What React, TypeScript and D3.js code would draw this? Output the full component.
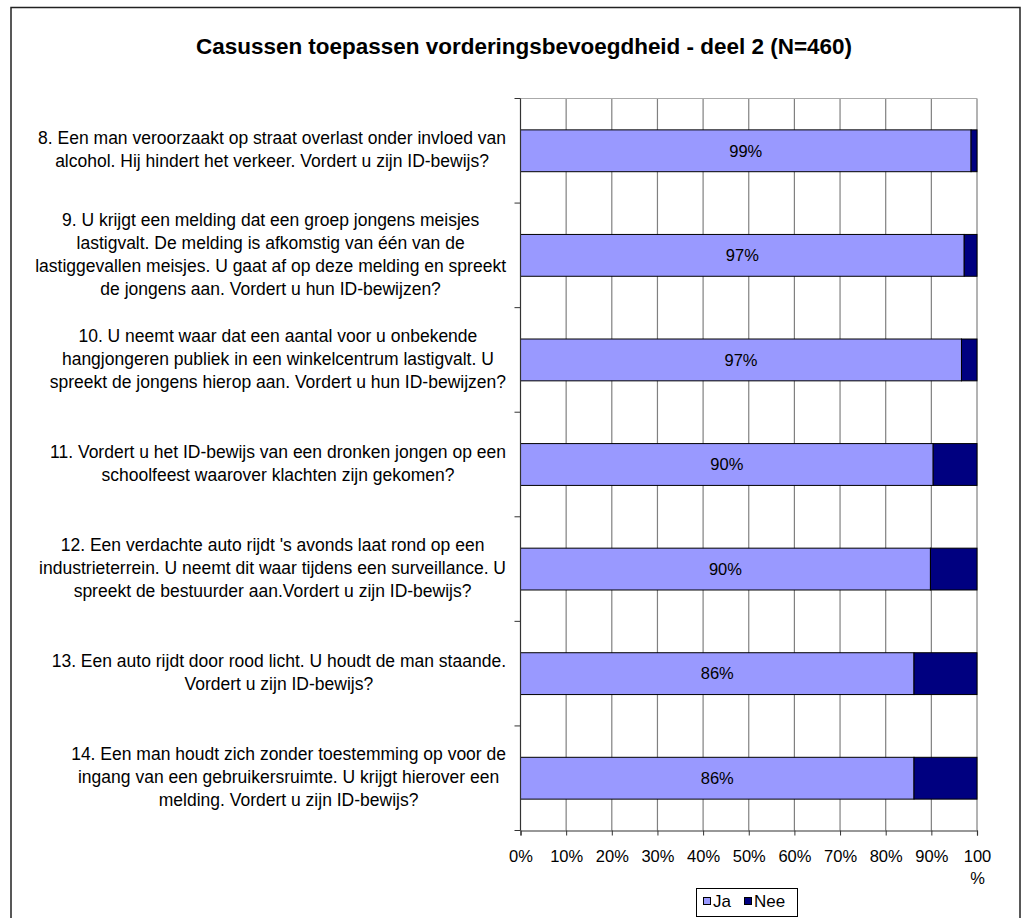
import React, { useEffect, useRef } from 'react';
import * as d3 from 'd3';

const title = 'Casussen toepassen vorderingsbevoegdheid - deel 2 (N=460)';

const questions: string[][] = [
  ['8. Een man veroorzaakt op straat overlast onder invloed van', 'alcohol. Hij hindert het verkeer. Vordert u zijn ID-bewijs?'],
  [
    '9. U krijgt een melding dat een groep jongens meisjes',
    'lastigvalt. De melding is afkomstig van één van de',
    'lastiggevallen meisjes. U gaat af op deze melding en spreekt',
    'de jongens aan. Vordert u hun ID-bewijzen?',
  ],
  [
    '10. U neemt waar dat een aantal voor u onbekende',
    'hangjongeren publiek in een winkelcentrum lastigvalt. U',
    'spreekt de jongens hierop aan. Vordert u hun ID-bewijzen?',
  ],
  ['11. Vordert u het ID-bewijs van een dronken jongen op een', 'schoolfeest waarover klachten zijn gekomen?'],
  [
    "12. Een verdachte auto rijdt 's avonds laat rond op een",
    'industrieterrein. U neemt dit waar tijdens een surveillance. U',
    'spreekt de bestuurder aan.Vordert u zijn ID-bewijs?',
  ],
  ['13. Een auto rijdt door rood licht. U houdt de man staande.', 'Vordert u zijn ID-bewijs?'],
  [
    '14. Een man houdt zich zonder toestemming op voor de',
    'ingang van een gebruikersruimte. U krijgt hierover een',
    'melding. Vordert u zijn ID-bewijs?',
  ],
];

const ja = [98.7, 97.2, 96.6, 90.4, 89.8, 86.2, 86.2];
const nee = ja.map((v) => 100 - v);

const seriesNames = ['Ja', 'Nee'];
const seriesColors = ['#9999FF', '#000080'];
const xTicks = [0, 10, 20, 30, 40, 50, 60, 70, 80, 90, 100];

const W = 1025;
const H = 918;
const FONT = 'Liberation Sans, Arial, sans-serif';

const App = () => {
  const ref = useRef<SVGSVGElement>(null);

  useEffect(() => {
    if (!ref.current) return;
    const svg = d3.select(ref.current);
    svg.selectAll('*').remove();

    const margin = { top: 98.5, bottom: 830.5, left: 520.5, right: 977 };

    const x = d3.scaleLinear().domain([0, 100]).range([margin.left, margin.right]);
    const y = d3
      .scaleBand<number>()
      .domain(d3.range(questions.length))
      .range([margin.top, margin.bottom])
      .paddingInner(0.6)
      .paddingOuter(0.3);

    svg.append('rect').attr('width', W).attr('height', H).attr('fill', '#fff');

    // outer frame
    svg
      .append('rect')
      .attr('x', 11)
      .attr('y', 7.5)
      .attr('width', 1009)
      .attr('height', 930)
      .attr('fill', 'none')
      .attr('stroke', '#222')
      .attr('stroke-width', 1.5);

    svg
      .append('text')
      .attr('x', 524)
      .attr('y', 54)
      .attr('text-anchor', 'middle')
      .attr('font-family', FONT)
      .attr('font-weight', 'bold')
      .attr('font-size', 22)
      .attr('textLength', 656)
      .attr('lengthAdjust', 'spacingAndGlyphs')
      .text(title);

    // grid
    svg
      .append('g')
      .attr('stroke', '#808080')
      .attr('stroke-width', 1.2)
      .selectAll('line')
      .data(xTicks.slice(1))
      .join('line')
      .attr('x1', (d) => x(d))
      .attr('x2', (d) => x(d))
      .attr('y1', margin.top)
      .attr('y2', margin.bottom);

    svg
      .append('line')
      .attr('x1', margin.left)
      .attr('x2', margin.right)
      .attr('y1', margin.top)
      .attr('y2', margin.top)
      .attr('stroke', '#aaa');

    // bars
    const stacked = questions.map((_, i) => {
      const vals = [ja[i], nee[i]];
      let acc = 0;
      return vals.map((v, k) => {
        const s = { i, k, x0: acc, x1: acc + v };
        acc += v;
        return s;
      });
    });

    svg
      .append('g')
      .selectAll('rect')
      .data(stacked.flat())
      .join('rect')
      .attr('x', (d) => x(d.x0))
      .attr('y', (d) => y(d.i)!)
      .attr('width', (d) => x(d.x1) - x(d.x0))
      .attr('height', y.bandwidth())
      .attr('fill', (d) => seriesColors[d.k])
      .attr('stroke', '#000')
      .attr('stroke-width', 1);

    // value labels
    svg
      .append('g')
      .attr('font-family', FONT)
      .attr('font-size', 16.5)
      .attr('text-anchor', 'middle')
      .selectAll('text')
      .data(ja)
      .join('text')
      .attr('x', (d) => x(d / 2))
      .attr('y', (_, i) => y(i)! + y.bandwidth() / 2)
      .attr('dy', '0.35em')
      .text((d) => `${Math.round(d)}%`);

    // left axis
    const yEdges = d3.range(questions.length + 1).map((i) => margin.top + i * y.step());
    svg
      .append('line')
      .attr('x1', margin.left)
      .attr('x2', margin.left)
      .attr('y1', margin.top)
      .attr('y2', margin.bottom)
      .attr('stroke', '#333')
      .attr('stroke-width', 1.2);
    svg
      .append('g')
      .attr('stroke', '#333')
      .selectAll('line')
      .data(yEdges)
      .join('line')
      .attr('x1', margin.left - 6)
      .attr('x2', margin.left)
      .attr('y1', (d) => d)
      .attr('y2', (d) => d);

    // bottom axis
    const xAxis = svg
      .append('g')
      .attr('transform', `translate(0,${margin.bottom})`)
      .call(
        d3
          .axisBottom(x)
          .tickValues(xTicks)
          .tickSize(5)
          .tickPadding(15)
          .tickFormat((d) => `${d}%`),
      );
    xAxis.select('.domain').attr('stroke', '#333').attr('stroke-width', 1.2);
    xAxis.selectAll('.tick line').attr('stroke', '#333');
    xAxis.selectAll('.tick text').attr('font-family', FONT).attr('font-size', 16.5).attr('fill', '#000');
    xAxis
      .selectAll<SVGTextElement, number>('.tick text')
      .filter((d) => d === 100)
      .text(null)
      .call((t) => {
        t.append('tspan').attr('x', 0).text('100');
        t.append('tspan').attr('x', 0).attr('dy', 22).text('%');
      });

    // category labels
    const labels = svg.append('g').attr('font-family', FONT).attr('font-size', 17.5).attr('fill', '#000');
    questions.forEach((lines, i) => {
      const g = labels.append('g');
      const cy = y(i)! + y.bandwidth() / 2 - 1;
      const pitch = 23;
      const texts = g
        .selectAll('text')
        .data(lines)
        .join('text')
        .attr('text-anchor', 'middle')
        .attr('x', 0)
        .attr('y', (_, k) => cy - ((lines.length - 1) * pitch) / 2 + k * pitch)
        .attr('dy', '0.35em')
        .text((d) => d);
      let maxW = 0;
      texts.each(function () {
        maxW = Math.max(maxW, (this as SVGTextElement).getComputedTextLength());
      });
      g.attr('transform', `translate(${506 - maxW / 2},0)`);
    });

    // legend
    const lg = svg.append('g');
    lg.append('rect')
      .attr('x', 696.5)
      .attr('y', 888.5)
      .attr('width', 101)
      .attr('height', 28)
      .attr('fill', '#fff')
      .attr('stroke', '#000');
    const items = [
      { name: seriesNames[0], color: seriesColors[0], x: 703 },
      { name: seriesNames[1], color: seriesColors[1], x: 744 },
    ];
    items.forEach((it) => {
      lg.append('rect')
        .attr('x', it.x + 0.5)
        .attr('y', 897.5)
        .attr('width', 7)
        .attr('height', 7)
        .attr('fill', it.color)
        .attr('stroke', '#000');
      lg.append('text')
        .attr('x', it.x + 10)
        .attr('y', 901)
        .attr('dy', '0.35em')
        .attr('font-family', FONT)
        .attr('font-size', 17)
        .text(it.name);
    });
  }, []);

  return (
    <svg
      ref={ref}
      width={W}
      height={H}
      viewBox={`0 0 ${W} ${H}`}
      style={{ position: 'absolute', left: 0, top: 0, display: 'block' }}
    />
  );
};

export default App;
